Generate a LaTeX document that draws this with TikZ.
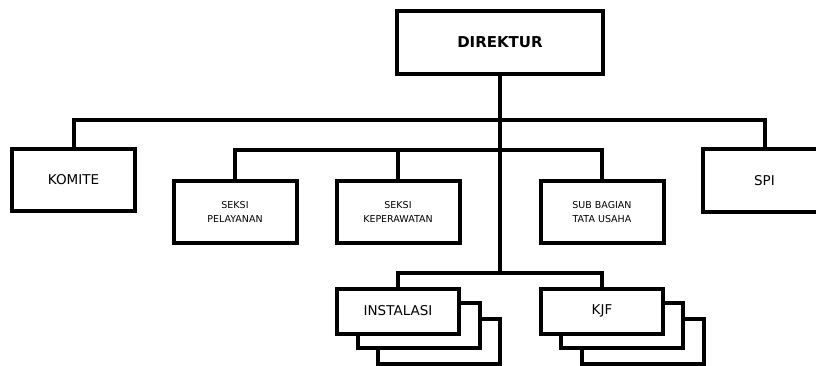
\documentclass[tikz,border=0pt]{standalone}
\usepackage{fontspec}
\setmainfont{DejaVu Sans}
\begin{document}
\begin{tikzpicture}[x=1pt,y=-1pt,
  line width=4pt, line join=miter,
  unit/.style={draw, fill=white, line width=4pt, inner sep=0pt,
    minimum width=123pt, minimum height=62pt, align=center,
    font=\fontsize{13.5}{16}\selectfont},
  small/.style={unit, font=\fontsize{9.5}{14}\selectfont},
  stackbox/.style={draw, fill=white, line width=4pt, inner sep=0pt,
    minimum width=122pt, minimum height=45pt, align=center,
    font=\fontsize{13.5}{16}\selectfont}]
\useasboundingbox (0,0) rectangle (816,366);

% head of the organisation
\node[unit, minimum width=206pt, minimum height=63pt,
  font=\fontsize{15}{18}\selectfont\bfseries] (dir) at (500,42.5) {DIREKTUR};

% staff units on the first level
\node[unit] (komite) at (73.5,180) {KOMITE};
\node[unit] (spi) at (764.5,180.5) {SPI};

% sections
\node[small] (pel) at (235,212) {SEKSI\\PELAYANAN};
\node[small] (kep) at (398,212) {SEKSI\\KEPERAWATAN};
\node[small] (sub) at (602,212) {SUB BAGIAN\\TATA USAHA};

% stacked units: back copies first, front box last
\node[stackbox] (inst3) at (439,341) {};
\node[stackbox] (inst2) at (419,325.5) {};
\node[stackbox] (inst) at (398,311) {INSTALASI};
\node[stackbox] (kjf3) at (642.5,341) {};
\node[stackbox] (kjf2) at (622,325.5) {};
\node[stackbox] (kjf) at (602,311) {KJF};

% bus junctions
\coordinate (bus1) at (500,120);
\coordinate (bus2) at (500,150);
\coordinate (bus3) at (500,273);

% connectors
\draw (dir.south) -- (bus3);
\draw (komite.north) |- (bus1) -| (spi.north);
\draw (pel.north) |- (bus2) -| (sub.north);
\draw (kep.north) -- (kep.north |- bus2);
\draw (inst.north) |- (bus3) -| (kjf.north);
\end{tikzpicture}
\end{document}
